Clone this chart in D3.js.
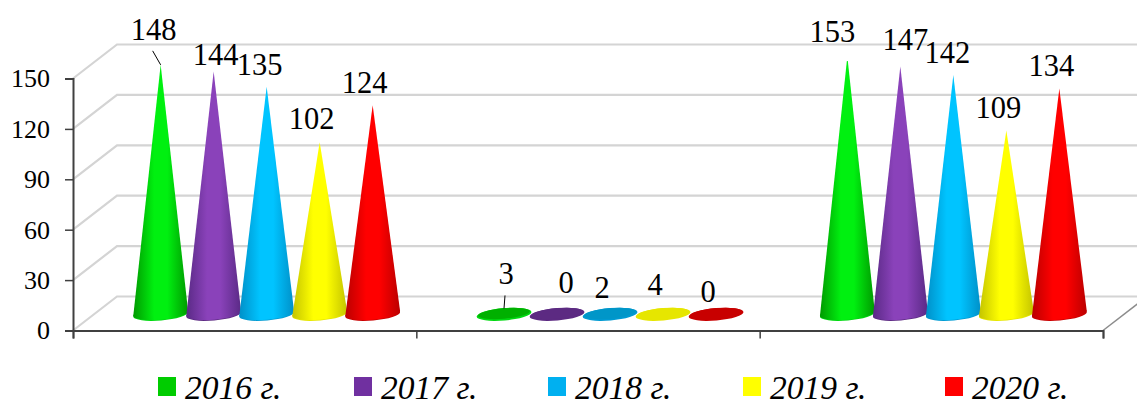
<!DOCTYPE html>
<html>
<head>
  <meta charset="UTF-8">
  <title>Cone chart 2016-2020</title>
  <script src="https://cdn.jsdelivr.net/npm/d3@7.8.5/dist/d3.min.js"></script>
</head>
<body style="margin:0;background:#fff">
  <svg id="chart" width="1137" height="401" style="display:block"></svg>
  <script>
    // values
    const years = ["2016 г.", "2017 г.", "2018 г.", "2019 г.", "2020 г."];
    const groups = ["group1", "group2", "group3"]; // the reference prints no category names
    const values2016 = [148, 3, 153];
    const values2017 = [144, 0, 147];
    const values2018 = [135, 2, 142];
    const values2019 = [102, 4, 109];
    const values2020 = [124, 0, 134];
    const yTicks = [0, 30, 60, 90, 120, 150];

    const allValues = [values2016, values2017, values2018, values2019, values2020];

    // colours per year: edge of cone, centre of cone, flat (squashed) cone, legend
    const edgeColors = ["#009a00", "#5a2a86", "#0090c8", "#c4c400", "#bb0000"];
    const midColors = ["#00f010", "#8a42ba", "#00c4ff", "#ffff00", "#ff0000"];
    const flatColors = ["#00b000", "#5c2a82", "#0096c8", "#e6e600", "#c80000"];
    const rimColors = ["#00d810", "#5c2a82", "#009ad2", "#e6e600", "#c80000"];
    const legendColors = ["#00cc00", "#7030a0", "#00b0f0", "#ffff00", "#ff0000"];
    const labelFont = "Liberation Serif";

    // hand placed label offsets from the cone tip, [year][group]
    const labelNudge = [
      [[-7, -25], [2, -24], [-15, -14]],
      [[2, -7], [9, -21], [5, -17]],
      [[-7, -12], [-8, -12], [-6, -12]],
      [[-8, -13], [-8, -12], [-8, -12]],
      [[-8, -12], [-8, -12], [-8, -12]]
    ];
    // leader lines, from the tip, only two of them in the original
    const leaders = [
      { year: 0, group: 0, dx: -8, dy: -14 },
      { year: 0, group: 1, dx: 1, dy: -13 }
    ];
    // the legend entries are not evenly spaced in the original
    const legendLeft = [158, 354, 548, 743, 945];

    const width = 1137, height = 401;
    const depthX = 44, depthY = 34;
    const svg = d3.select("#chart");

    const y = d3.scaleLinear().domain([0, 150]).range([330.5, 78.5]);
    const xEdge = d3.scaleLinear().domain([0, groups.length]).range([73, 1103]);
    const xYear = d3.scaleBand().domain(d3.range(years.length)).range([-132.5, 132.5]);

    // gradients
    const defs = svg.append("defs");
    years.forEach((yr, i) => {
      const g = defs.append("linearGradient").attr("id", "cone" + i);
      g.append("stop").attr("offset", "0%").attr("stop-color", edgeColors[i]);
      g.append("stop").attr("offset", "38%").attr("stop-color", midColors[i]);
      g.append("stop").attr("offset", "62%").attr("stop-color", midColors[i]);
      g.append("stop").attr("offset", "100%").attr("stop-color", edgeColors[i]);
    });
    // the third group overshoots the axis maximum, so its tip gets cut
    defs.append("clipPath").attr("id", "plotClip")
      .append("rect")
      .attr("x", 0).attr("y", y(150) - depthY / 2 - 0.5)
      .attr("width", width).attr("height", height);

    // back wall gridlines with the diagonal part on the left wall
    const grid = svg.append("g").attr("fill", "none").attr("stroke", "#d4d4d4").attr("stroke-width", 2.2);
    grid.selectAll("path")
      .data(yTicks)
      .join("path")
      .attr("d", d => `M${xEdge(0)},${y(d)}L${xEdge(0) + depthX},${y(d) - depthY}L${xEdge(3) + depthX},${y(d) - depthY}`);

    // floor edge at the right
    svg.append("line")
      .attr("x1", xEdge(3)).attr("y1", y(0))
      .attr("x2", xEdge(3) + depthX).attr("y2", y(0) - depthY)
      .attr("stroke", "#8c8c8c").attr("stroke-width", 1.5);

    // axes
    const yAxis = d3.axisLeft(y).tickValues(yTicks).tickSize(8).tickPadding(15);
    const yG = svg.append("g").attr("transform", `translate(${xEdge(0)},0)`).call(yAxis);
    const xAxis = d3.axisBottom(xEdge).tickValues(d3.range(groups.length + 1)).tickFormat("").tickSize(8);
    const xG = svg.append("g").attr("transform", `translate(0,${y(0)})`).call(xAxis);
    [yG, xG].forEach(a => {
      a.selectAll(".domain").attr("stroke", "#404040").attr("stroke-width", 2);
      a.selectAll(".tick line").attr("stroke", "#404040").attr("stroke-width", 1.5);
    });
    yG.selectAll("text")
      .style("font-family", `"${labelFont}"`).style("font-size", "26px")
      .attr("fill", "#000");

    // cones
    const tilt = 5 * Math.PI / 180;
    const rx = 27.5, ry = 6.2;
    const tipOf = (yi, gi) => ({
      x: xEdge(gi + 0.5) + depthX / 2 + xYear(yi) + xYear.bandwidth() / 2,
      y: y(allValues[yi][gi]) - depthY / 2
    });
    const cones = svg.append("g").attr("clip-path", "url(#plotClip)");
    groups.forEach((grp, gi) => {
      years.forEach((yr, yi) => {
        const v = allValues[yi][gi];
        const tip = tipOf(yi, gi);
        const baseY = y(0) - depthY / 2;
        const dx = rx * Math.cos(tilt), dy = rx * Math.sin(tilt);
        // rim first, a touch lower than the cone body
        cones.append("ellipse")
          .attr("cx", tip.x).attr("cy", baseY + 0.8)
          .attr("rx", rx).attr("ry", ry)
          .attr("transform", `rotate(-5 ${tip.x} ${baseY})`)
          .attr("fill", rimColors[yi]);
        if (v > 10) {
          const fill = `url(#cone${yi})`;
          cones.append("ellipse")
            .attr("cx", tip.x).attr("cy", baseY)
            .attr("rx", rx).attr("ry", ry)
            .attr("transform", `rotate(-5 ${tip.x} ${baseY})`)
            .attr("fill", fill);
          cones.append("path")
            .attr("d", `M${tip.x - dx},${baseY + dy}L${tip.x},${tip.y}L${tip.x + dx},${baseY - dy}Z`)
            .attr("fill", fill);
        } else {
          cones.append("ellipse")
            .attr("cx", tip.x).attr("cy", baseY)
            .attr("rx", rx - 1.5).attr("ry", ry - 1)
            .attr("transform", `rotate(-5 ${tip.x} ${baseY})`)
            .attr("fill", flatColors[yi]);
        }
      });
    });

    // leader lines
    svg.append("g").selectAll("line")
      .data(leaders)
      .join("line")
      .attr("x1", d => tipOf(d.year, d.group).x)
      .attr("y1", d => tipOf(d.year, d.group).y)
      .attr("x2", d => tipOf(d.year, d.group).x + d.dx)
      .attr("y2", d => tipOf(d.year, d.group).y + d.dy)
      .attr("stroke", "#000").attr("stroke-width", 1);

    // value labels
    allValues.forEach((series, yi) => {
      svg.append("g").selectAll("text")
        .data(series)
        .join("text")
        .attr("x", (d, gi) => tipOf(yi, gi).x + labelNudge[yi][gi][0])
        .attr("y", (d, gi) => tipOf(yi, gi).y + labelNudge[yi][gi][1])
        .attr("text-anchor", "middle")
        .style("font-family", `"${labelFont}"`).style("font-size", "30.5px")
        .text(d => d);
    });

    // legend
    const legend = svg.append("g").selectAll("g")
      .data(years)
      .join("g")
      .attr("transform", (d, i) => `translate(${legendLeft[i]},0)`);
    legend.append("rect")
      .attr("y", 377).attr("width", 18).attr("height", 19)
      .attr("fill", (d, i) => legendColors[i]);
    legend.append("text")
      .attr("x", 27).attr("y", 399)
      .style("font-family", `"${labelFont}"`).style("font-size", "33.5px").style("font-style", "italic")
      .text(d => d);
  </script>
</body>
</html>
